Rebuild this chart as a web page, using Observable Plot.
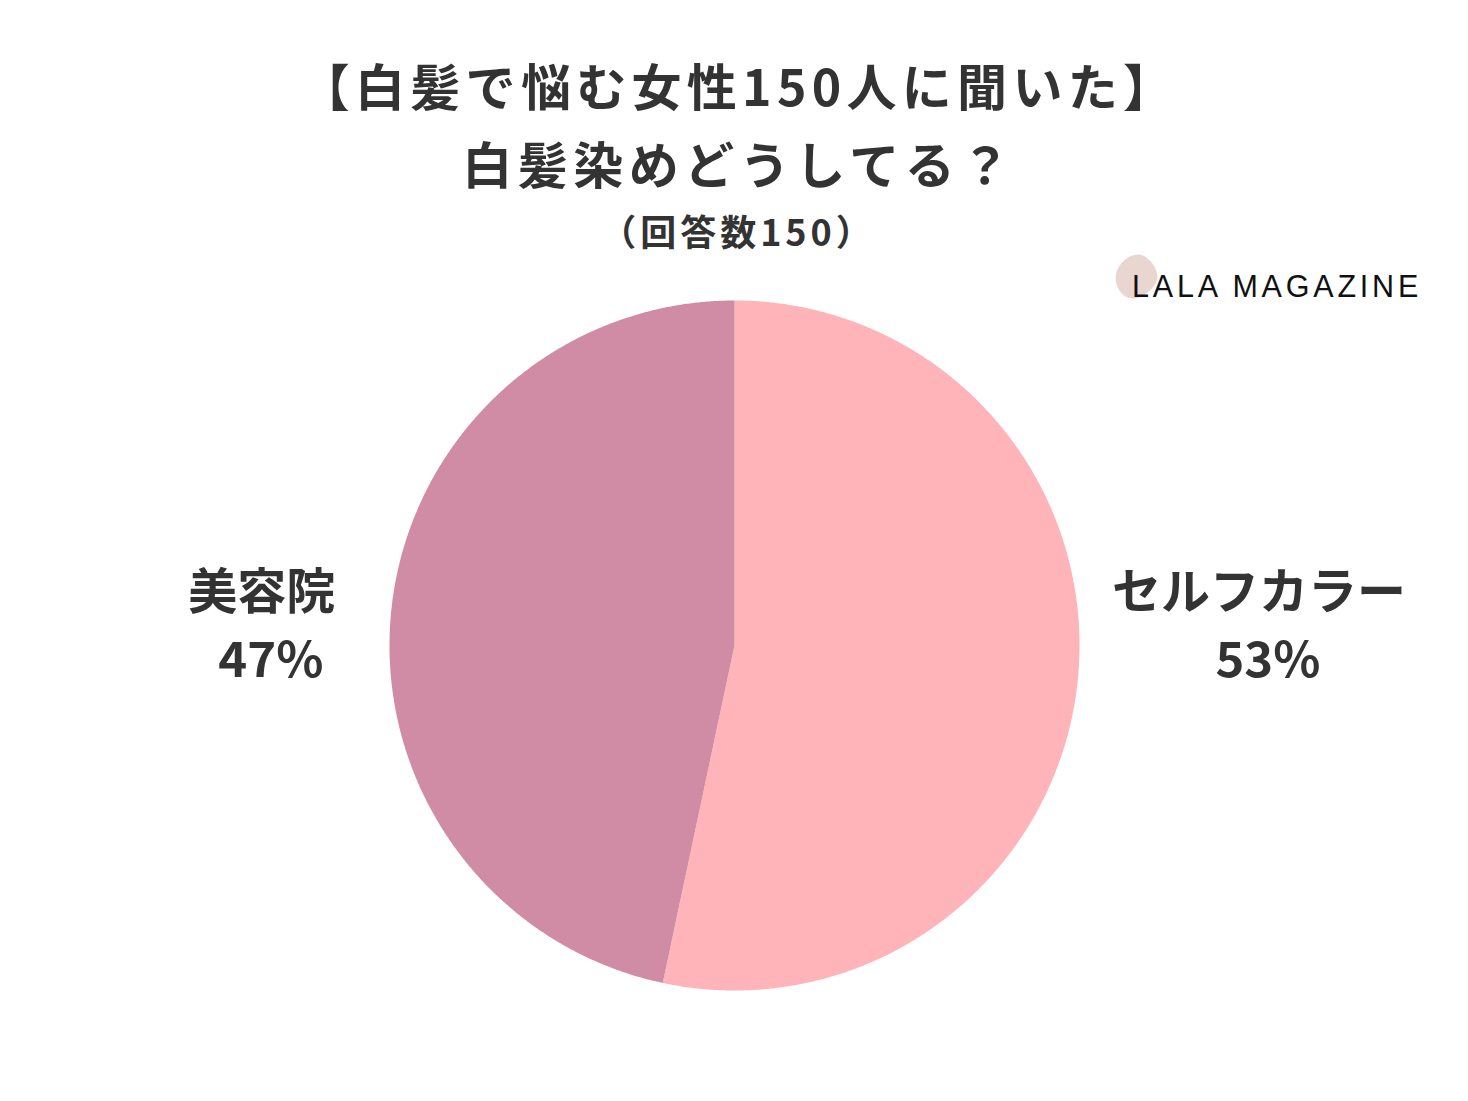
<!DOCTYPE html>
<html>
<head>
<meta charset="utf-8">
<script src="https://cdn.jsdelivr.net/npm/d3@7"></script>
<script src="https://cdn.jsdelivr.net/npm/@observablehq/plot@0.6"></script>
<style>
  html, body { margin: 0; padding: 0; background: #fff; }
  #wrap { position: relative; width: 1468px; height: 1101px; overflow: hidden; font-family: "Noto Sans CJK JP", "Noto Sans", sans-serif; color: #333; }
  .t { position: absolute; left: 0; width: 1468px; text-align: center; font-weight: 700; white-space: nowrap; }
  #chart { position: absolute; left: 0; top: 0; }
  #logo { position: absolute; left: 1110px; top: 250px; width: 350px; height: 60px; }
  #blob { position: absolute; left: 6px; top: 5px; width: 40px; height: 44px; background: #e9d6d1; border-radius: 40% 60% 45% 55% / 50% 40% 60% 50%; transform: rotate(35deg); }
  #logotext { position: absolute; left: 22px; top: 20px; font-family: "Liberation Sans", sans-serif; font-weight: 400; font-size: 30.5px; letter-spacing: 3.8px; color: #111; white-space: nowrap; line-height: 33px; }
</style>
</head>
<body>
<div id="wrap">
  <div id="chart"></div>
  <div class="t" id="t1"></div>
  <div class="t" id="t2"></div>
  <div class="t" id="t3"></div>
  <div id="logo"><div id="blob"></div><div id="logotext"></div></div>
</div>
<script>
const titleLines = ["【白髪で悩む女性150人に聞いた】", "白髪染めどうしてる？"];
const subtitle = "（回答数150）";
const brand = "LALA MAGAZINE";
const categories = ["セルフカラー", "美容院"];
const counts = [80, 70];
const colors = ["#feb4b8", "#d08ca5"];

const t1 = document.getElementById("t1");
t1.textContent = titleLines[0];
Object.assign(t1.style, {top: "54px", fontSize: "50px", lineHeight: "60px", letterSpacing: "5.3px", paddingLeft: "5px"});
const t2 = document.getElementById("t2");
t2.textContent = titleLines[1];
Object.assign(t2.style, {top: "132px", fontSize: "50px", lineHeight: "60px", letterSpacing: "5.5px", paddingLeft: "5px"});
const t3 = document.getElementById("t3");
t3.textContent = subtitle;
Object.assign(t3.style, {top: "208px", fontSize: "36px", lineHeight: "44px", letterSpacing: "4px", paddingLeft: "4px"});
document.getElementById("logotext").textContent = brand;

const total = d3.sum(counts);
const arcs = d3.pie().sort(null).startAngle(0).endAngle(2 * Math.PI)(counts);
const points = [];
arcs.forEach((a, i) => {
  points.push({cat: categories[i], x: 0, y: 0});
  const n = Math.max(2, Math.ceil((a.endAngle - a.startAngle) / 0.005));
  for (let k = 0; k <= n; k++) {
    const ang = a.startAngle + (a.endAngle - a.startAngle) * k / n;
    points.push({cat: categories[i], x: Math.sin(ang), y: -Math.cos(ang)});
  }
  points.push({cat: categories[i], x: 0, y: 0});
});

const labels = arcs.map((a, i) => {
  const mid = (a.startAngle + a.endAngle) / 2;
  const side = Math.sin(mid) >= 0 ? 1 : -1;
  return {cat: categories[i], side, name: categories[i], pct: `${Math.round(counts[i] / total * 100)}%`};
});

const labelStyle = {
  textAnchor: "middle",
  fontSize: 49,
  fontWeight: 700,
  fill: "#333333",
  fontFamily: "Noto Sans CJK JP"
};

const chart = Plot.plot({
  width: 1468,
  height: 1101,
  margin: 0,
  x: {domain: [-1, 1], range: [389, 1079], axis: null},
  y: {domain: [-1, 1], range: [300, 990], axis: null},
  color: {domain: categories, range: colors},
  style: {background: "transparent"},
  marks: [
    Plot.line(points, {x: "x", y: "y", z: "cat", fill: "cat", stroke: "none", curve: "linear"}),
    Plot.text(labels, {...labelStyle, x: d => d.side > 0 ? 1.52 : -1.37, y: () => -0.15, text: "name"}),
    Plot.text(labels, {...labelStyle, x: d => d.side > 0 ? 1.52 : -1.37, y: () => 0.045, dx: 9, text: "pct"})
  ]
});
document.getElementById("chart").appendChild(chart);
</script>
</body>
</html>
